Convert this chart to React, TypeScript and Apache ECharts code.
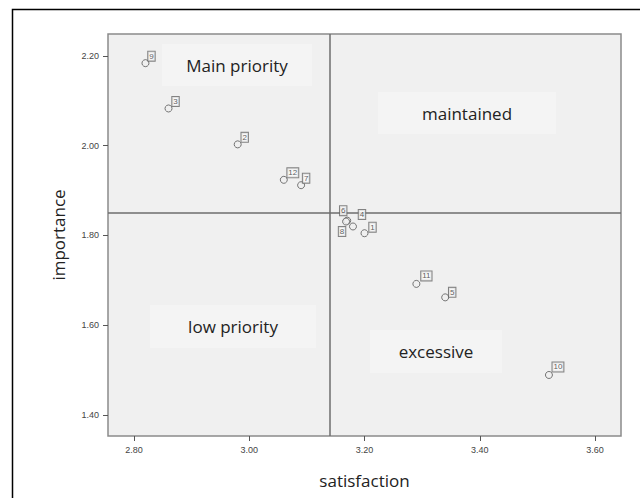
import React, { useEffect, useRef } from "react";
import * as echarts from "echarts";

const pointNames = ["9", "3", "2", "12", "7", "6", "8", "4", "1", "11", "5", "10"];
const satisfaction = [2.82, 2.86, 2.98, 3.06, 3.09, 3.17, 3.168, 3.18, 3.2, 3.29, 3.34, 3.52];
const importance = [2.184, 2.083, 2.003, 1.924, 1.912, 1.833, 1.831, 1.82, 1.805, 1.692, 1.662, 1.489];
const labelOffsets: [number, number][] = [
  [6, -7], [7, -7], [7, -7], [9, -7], [5, -7], [-4, -10], [-4, 10], [9, -12], [8, -6], [10, -8], [7, -5], [9, -8],
];
const xTicks = [2.8, 3.0, 3.2, 3.4, 3.6];
const yTicks = [1.4, 1.6, 1.8, 2.0, 2.2];
const xRef = 3.14;
const yRef = 1.85;
const quadrants = [
  { text: "Main priority", x: 162, y: 44, w: 150, h: 42 },
  { text: "maintained", x: 378, y: 92, w: 178, h: 42 },
  { text: "low priority", x: 150, y: 305, w: 166, h: 43 },
  { text: "excessive", x: 370, y: 330, w: 132, h: 43 },
];

export default function App() {
  const ref = useRef<HTMLDivElement>(null);
  useEffect(() => {
    if (!ref.current) return;
    const chart = echarts.init(ref.current, null, { renderer: "svg" });
    const data = pointNames.map((n, i) => ({
      name: n,
      value: [satisfaction[i], importance[i]],
      label: { offset: labelOffsets[i] },
    }));
    const tickLabelStyle = {
      fontSize: 9,
      color: "#444",
      fontFamily: "Liberation Sans, Arial, sans-serif",
      formatter: (v: number) => v.toFixed(2),
    };
    const nameFont = { fontSize: 17, color: "#222", fontFamily: "Open Sans, Noto Sans, sans-serif" };
    chart.setOption({
      animation: false,
      backgroundColor: "#ffffff",
      grid: {
        left: 108,
        top: 34,
        right: 19,
        bottom: 62,
        show: true,
        backgroundColor: "#f0f0f0",
        borderColor: "#8a8a8a",
        borderWidth: 1.5,
      },
      xAxis: {
        type: "value",
        min: 2.755,
        max: 3.645,
        splitLine: { show: false },
        axisLine: { show: false },
        axisTick: { show: true, length: 5, lineStyle: { color: "#555" }, customValues: xTicks },
        axisLabel: { ...tickLabelStyle, margin: 9, customValues: xTicks },
        name: "satisfaction",
        nameLocation: "middle",
        nameGap: 36,
        nameTextStyle: nameFont,
      },
      yAxis: {
        type: "value",
        min: 1.353,
        max: 2.249,
        splitLine: { show: false },
        axisLine: { show: false },
        axisTick: { show: true, length: 5, lineStyle: { color: "#555" }, customValues: yTicks },
        axisLabel: { ...tickLabelStyle, margin: 9, customValues: yTicks },
        name: "importance",
        nameLocation: "middle",
        nameGap: 41,
        nameTextStyle: nameFont,
      },
      graphic: [
        {
          type: "rect",
          left: 10,
          top: 7,
          shape: { width: 660, height: 520 },
          style: { fill: "none", stroke: "#000", lineWidth: 1.5 },
          silent: true,
        },
        ...quadrants.map((q) => ({
          type: "group",
          left: q.x,
          top: q.y,
          silent: true,
          children: [
            { type: "rect", shape: { x: 0, y: 0, width: q.w, height: q.h }, style: { fill: "#f4f4f4" } },
            {
              type: "text",
              x: q.w / 2,
              y: q.h / 2,
              style: {
                text: q.text,
                align: "center",
                verticalAlign: "middle",
                fontSize: 17,
                fill: "#222",
                fontFamily: "Open Sans, Noto Sans, sans-serif",
              },
            },
          ],
        })),
      ],
      series: [
        {
          type: "scatter",
          data,
          symbol: "circle",
          symbolSize: 7,
          z: 5,
          itemStyle: { color: "#f0f0f0", borderColor: "#555", borderWidth: 1 },
          label: {
            show: true,
            position: "inside",
            formatter: (p: any) => p.name,
            fontSize: 8,
            color: "#333",
            fontFamily: "Liberation Sans, Arial, sans-serif",
            backgroundColor: "#fafafa",
            borderColor: "#666",
            borderWidth: 1,
            padding: [1, 1, 0, 1],
          },
          markLine: {
            silent: true,
            symbol: "none",
            label: { show: false },
            lineStyle: { color: "#6e6e6e", width: 1.5, type: "solid" },
            data: [{ xAxis: xRef }, { yAxis: yRef }],
          },
        },
      ],
    });
    return () => chart.dispose();
  }, []);
  return (
    <div
      ref={ref}
      style={{ position: "fixed", left: 0, top: 0, width: 640, height: 498 }}
    />
  );
}
